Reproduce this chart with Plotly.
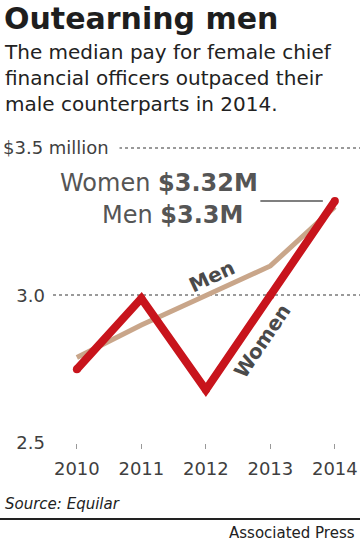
import plotly.graph_objects as go

years = [2010, 2011, 2012, 2013, 2014]
women = [2.75, 2.99, 2.68, 3.00, 3.32]
men = [2.79, 2.90, 3.00, 3.10, 3.30]
y_ticks = [2.5, 3.0, 3.5]
y_ticktext = ["2.5", "3.0", ""]
x_ticktext = ["2010", "2011", "2012", "2013", "2014"]
subtitle_lines = ["The median pay for female chief",
                  "financial officers outpaced their",
                  "male counterparts in 2014."]

RED = "#c8141c"
TAN = "#c9a68a"
DARK = "#3f3f3f"
FONT = "DejaVu Sans"

W, H = 360, 543
L, R, T, B = 53, 0, 139, 100
PW, PH = W - L - R, H - T - B


def px(x):
    return (x - L) / PW


def py(y):
    return (H - B - y) / PH


fig = go.Figure()
fig.add_trace(go.Scatter(x=years, y=men, mode="lines",
                         line=dict(color=TAN, width=5), hoverinfo="skip"))
fig.add_trace(go.Scatter(x=years, y=women, mode="lines+markers",
                         line=dict(color=RED, width=8),
                         marker=dict(color=RED, size=8, line=dict(width=0)),
                         hoverinfo="skip"))

fig.update_layout(
    width=W, height=H,
    margin=dict(l=L, r=R, t=T, b=B),
    paper_bgcolor="white", plot_bgcolor="white",
    showlegend=False,
    font=dict(family=FONT, color=DARK),
    xaxis=dict(range=[2009.63, 2014.39], tickvals=years, ticktext=x_ticktext,
               showgrid=False, zeroline=False, showline=False,
               ticks="outside", ticklen=5, tickcolor="#999", tickwidth=1,
               ticklabelstandoff=4,
               tickfont=dict(size=18, color=DARK, family=FONT)),
    yaxis=dict(range=[2.5, 3.53], tickvals=y_ticks, ticktext=y_ticktext,
               showgrid=True, gridcolor="#9a9a9a", gridwidth=2, griddash="dot",
               zeroline=False, showline=False, ticks="",
               ticklabelstandoff=7,
               tickfont=dict(size=18, color=DARK, family=FONT)),
)

ann = []
ann.append(dict(text="<b>Outearning men</b>", xref="paper", yref="paper",
                x=px(2), y=py(18), xanchor="left", yanchor="middle",
                showarrow=False,
                font=dict(size=30, color="#1e1e1e", family=FONT)))
ann.append(dict(text="<br>".join(subtitle_lines), xref="paper", yref="paper",
                x=px(2), y=py(38), xanchor="left", yanchor="top", align="left",
                showarrow=False, font=dict(size=20, color="#222", family=FONT)))
ann.append(dict(text="$3.5 million", xref="paper", yref="y", x=px(1), y=3.5,
                xanchor="left", yanchor="middle", showarrow=False, bgcolor="white",
                width=115, align="left",
                font=dict(size=18, color=DARK, family=FONT)))
# value labels
ann.append(dict(text="Women <b>$3.32M</b>", x=years[-1], y=women[-1],
                xanchor="right", yanchor="middle", xshift=-75, yshift=18,
                showarrow=False, font=dict(size=24, color="#555", family=FONT)))
ann.append(dict(text="Men <b>$3.3M</b>", x=years[-1], y=women[-1],
                xanchor="right", yanchor="middle", xshift=-90, yshift=-14,
                showarrow=False, font=dict(size=24, color="#555", family=FONT)))
ann.append(dict(text="", x=years[-1], y=women[-1], ax=-76, ay=0,
                showarrow=True, arrowhead=0, arrowwidth=1.5, arrowcolor="#555",
                standoff=12))
# inline series labels
ann.append(dict(text="<b>Men</b>", x=2012.1, y=3.065, textangle=-25, showarrow=False,
                font=dict(size=20, color="#4a4a4a", family=FONT)))
ann.append(dict(text="<b>Women</b>", x=2012.87, y=2.847, textangle=-56, showarrow=False,
                font=dict(size=20, color="#4a4a4a", family=FONT)))
# footer
ann.append(dict(text="<i>Source: Equilar</i>", xref="paper", yref="paper",
                x=px(3), y=py(504), xanchor="left", yanchor="middle",
                showarrow=False, font=dict(size=15, color="#222", family=FONT)))
ann.append(dict(text="Associated Press", xref="paper", yref="paper",
                x=px(357), y=py(533), xanchor="right", yanchor="middle",
                showarrow=False, font=dict(size=15, color="#222", family=FONT)))
fig.update_layout(annotations=ann)
fig.add_shape(type="line", xref="paper", yref="paper",
              x0=px(0), x1=px(360), y0=py(519), y1=py(519),
              line=dict(color="#222", width=2))

fig.write_html("out.html", config={"displayModeBar": False},
               post_script="document.body.style.margin='0';"
                           "document.body.style.overflow='hidden';")
